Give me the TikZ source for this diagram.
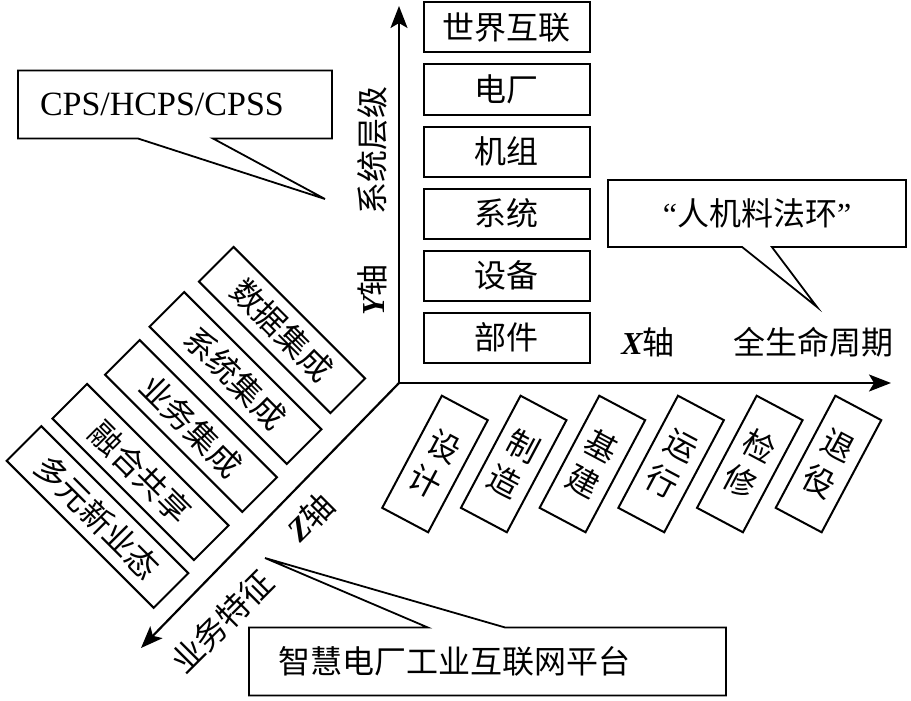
\documentclass[tikz,border=0pt]{standalone}
\usepackage{fontspec}
\setmainfont{Liberation Serif}
\newfontfamily\cjk{Noto Sans CJK SC}
\usetikzlibrary{arrows.meta,positioning,calc}

\begin{document}
\begin{tikzpicture}[x=1pt, y=-1pt,
  node distance=12pt,
  txt/.style={font=\cjk\fontsize{32}{40}\selectfont, inner sep=0pt, outer sep=0pt},
  cengji/.style={txt, draw, line width=2pt, minimum width=166pt, minimum height=50pt},
  jieduan/.style={txt, draw, line width=2pt, minimum width=52pt, minimum height=127pt,
                  rotate=-28, align=center},
  tezheng/.style={txt, draw, line width=2pt, minimum height=49pt, rotate=-45},
  qipao/.style={txt, minimum height=68pt},
  zhou/.style={line width=2.2pt, -{Stealth[length=22pt, width=17pt, inset=5pt]}},
  zhixian/.style={line width=1.8pt, line join=miter}
]
\useasboundingbox (0,0) rectangle (911,701);

% axes
\coordinate (o) at (399,383);
\coordinate (ytip) at (399,6);
\coordinate (xtip) at (891,383);
\coordinate (ztip) at (141,648);
\draw[zhou] (o) -- (ytip);
\draw[zhou] (o) -- (xtip);
\draw[zhou] (o) -- (ztip);

% Y axis: system levels
\node[cengji] (shijie) at (506.5,27.5) {世界互联};
\node[cengji, below=of shijie] (dianchang) {电厂};
\node[cengji, below=of dianchang] (jizu) {机组};
\node[cengji, below=of jizu] (xitong) {系统};
\node[cengji, below=of xitong] (shebei) {设备};
\node[cengji, below=of shebei] (bujian) {部件};

\node[txt, rotate=90] (ylab) at (372,150) {系统层级};
\node[txt, rotate=90] (yzhou) at (372,290) {{\rmfamily\bfseries\itshape Y}轴};

% X axis: life cycle
\node[jieduan] (sheji) at (435,464) {设\\计};
\node[jieduan] (zhizao) at (513.7,464) {制\\造};
\node[jieduan] (jijian) at (592.4,464) {基\\建};
\node[jieduan] (yunxing) at (671.1,464) {运\\行};
\node[jieduan] (jianxiu) at (749.8,464) {检\\修};
\node[jieduan] (tuiyi) at (828.5,464) {退\\役};

\node[txt] (xzhou) at (648,342) {{\rmfamily\bfseries\itshape X}轴};
\node[txt] (xlab) at (813,342) {全生命周期};

% Z axis: business features
\node[tezheng, minimum width=186pt] (shuju) at (282,330) {数据集成};
\node[tezheng, minimum width=194pt] (xtjc) at (235.5,378) {系统集成};
\node[tezheng, minimum width=194pt] (ywjc) at (191,426) {业务集成};
\node[tezheng, minimum width=200pt] (ronghe) at (140.5,472) {融合共享};
\node[tezheng, minimum width=208pt] (duoyuan) at (97.5,517) {多元新业态};

\node[txt, rotate=45] (zzhou) at (310,517) {{\rmfamily\bfseries\itshape Z}轴};
\node[txt, rotate=45] (zlab) at (222,622) {业务特征};

% callouts
\node[qipao, minimum width=314pt, text width=270pt, inner xsep=22pt, align=left,
      font=\fontsize{34}{40}\selectfont] (cps) at (175,104.5) {CPS/HCPS/CPSS};
\coordinate (cpsjian) at (325,199);
\draw[zhixian] (cps.south west) -- ($(cps.south west)!0.382!(cps.south east)$)
  -- (cpsjian) -- ($(cps.south west)!0.621!(cps.south east)$)
  -- (cps.south east) -- (cps.north east) -- (cps.north west) -- cycle;

\node[qipao, minimum width=298pt, minimum height=67pt] (renji) at (757,213.5)
  {{\rmfamily “}人机料法环{\rmfamily ”}};
\coordinate (renjijian) at (817,307);
\draw[zhixian] (renji.south west) -- ($(renji.south west)!0.45!(renji.south east)$)
  -- (renjijian) -- ($(renji.south west)!0.55!(renji.south east)$)
  -- (renji.south east) -- (renji.north east) -- (renji.north west) -- cycle;

\node[qipao, minimum width=477pt, text width=419pt, inner xsep=29pt, align=left]
  (pingtai) at (487.5,661.5) {智慧电厂工业互联网平台};
\coordinate (pingtaijian) at (265,558);
\draw[zhixian] (pingtai.north west) -- ($(pingtai.north west)!0.375!(pingtai.north east)$)
  -- (pingtaijian) -- ($(pingtai.north west)!0.537!(pingtai.north east)$)
  -- (pingtai.north east) -- (pingtai.south east) -- (pingtai.south west) -- cycle;
\end{tikzpicture}
\end{document}
